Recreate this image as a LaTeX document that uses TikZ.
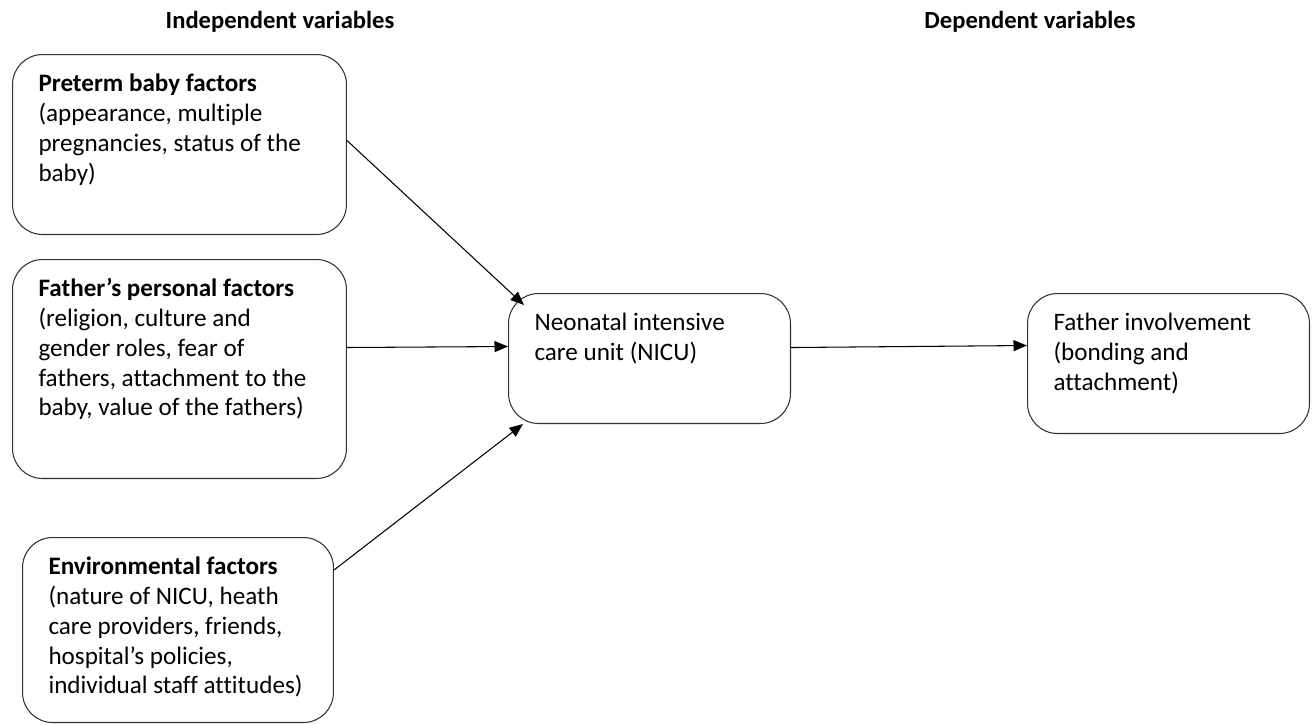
\documentclass[tikz,border=0pt]{standalone}
\usepackage{fontspec}
\setmainfont[Ligatures=NoCommon]{Carlito}
\usetikzlibrary{
  arrows.meta,
  positioning
}
\newcommand{\boxfont}{\fontsize{14.3}{17}\selectfont}
\newcommand{\boxtext}[3]{\parbox[t][#2][t]{#1}{\raggedright\strut #3}}
\tikzset{
  every picture/.style={line width=0.6pt, line cap=round, line join=round},
  factor/.style={draw=black!80, rounded corners=0.6cm, anchor=north west,
    inner xsep=0.52cm, inner ysep=0.32cm, font=\boxfont},
  heading/.style={font=\fontsize{14}{17}\selectfont\bfseries},
  arrow/.style={-{Triangle[length=0.27cm,width=0.22cm]}}
}

\begin{document}
\begin{tikzpicture}[x=0.02cm, y=-0.02cm]
\useasboundingbox (0,0) rectangle (1312,724);

% headings
\node[heading] (indep) at (280,22) {Independent variables};
\node[heading] (dep) at (1030,22) {Dependent variables};

% independent variables
\node[factor] (preterm) at (12,54) {\boxtext{5.64cm}{2.96cm}{\textbf{Preterm baby factors}\\
  (appearance, multiple\\ pregnancies, status of the\\ baby)}};
\node[factor] (personal) at (12,259) {\boxtext{5.64cm}{3.74cm}{\textbf{Father’s personal factors}\\
  (religion, culture and\\ gender roles, fear of\\ fathers, attachment to the\\ baby, value of the fathers)}};
\node[factor] (environ) at (22,537) {\boxtext{5.18cm}{3.06cm}{\textbf{Environmental factors}\\
  (nature of NICU, heath\\ care providers, friends,\\ hospital’s policies,\\ individual staff attitudes)}};

% NICU and outcome
\node[factor] (nicu) at (508,293) {\boxtext{4.6cm}{1.96cm}{Neonatal intensive\\ care unit (NICU)}};
\node[factor] (involve) at (1027,293) {\boxtext{4.6cm}{2.16cm}{Father involvement\\ (bonding and\\ attachment)}};

% arrows
\draw[arrow] ([yshift=0.08cm]preterm.east) -- ([xshift=0.32cm,yshift=-0.24cm]nicu.north west);
\draw[arrow] ([yshift=0.43cm]personal.east) -- ([yshift=0.24cm]nicu.west);
\draw[arrow] ([yshift=1.2cm]environ.east) -- ([xshift=0.3cm]nicu.south west);
\draw[arrow] ([yshift=0.22cm]nicu.east) -- ([yshift=0.36cm]involve.west);

\end{tikzpicture}
\end{document}
